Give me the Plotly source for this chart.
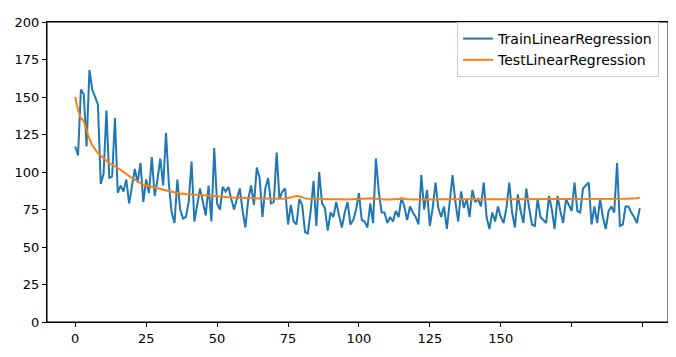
import plotly.graph_objects as go

epochs = list(range(200))

train_loss = [
    117, 111, 155, 152, 117, 168, 155, 150, 145, 92,
    99, 141, 96, 97, 136, 86, 91, 87, 95, 79,
    90, 102, 93, 106, 80, 95, 86, 110, 84, 95,
    109, 91, 126, 92, 73, 66, 95, 75, 69, 70,
    80, 107, 67, 77, 89, 80, 71, 91, 67, 116,
    79, 75, 90, 87, 90, 82, 75, 82, 89, 74,
    63, 82, 91, 78, 103, 96, 70, 89, 96, 79,
    80, 113, 82, 87, 89, 65, 78, 67, 65, 82,
    78, 60, 59, 74, 94, 64, 100, 79, 76, 61,
    73, 70, 80, 71, 63, 73, 80, 65, 68, 75,
    86, 68, 67, 63, 79, 66, 109, 87, 73, 73,
    66, 70, 67, 74, 70, 83, 77, 68, 77, 73,
    70, 65, 98, 75, 88, 64, 76, 93, 76, 70,
    77, 62, 82, 98, 80, 67, 87, 76, 82, 70,
    88, 80, 82, 77, 93, 70, 62, 73, 67, 77,
    70, 66, 76, 93, 73, 63, 85, 74, 66, 89,
    76, 65, 64, 82, 70, 68, 66, 84, 75, 62,
    84, 74, 66, 82, 78, 74, 93, 74, 73, 89,
    91, 93, 65, 77, 66, 82, 70, 62, 74, 77,
    73, 106, 64, 65, 77, 77, 73, 70, 66, 76,
]

test_loss = [
    150, 141, 136, 134, 128, 122, 118, 115, 112.5, 111,
    109, 107.5, 106, 105, 104, 103, 101.5, 100, 98.5, 97,
    96, 95, 93.5, 92.5, 91.5, 91, 90.5, 90, 89.5, 89,
    88.5, 88, 87.5, 87, 86.5, 86, 86, 85.5, 85.5, 85,
    85, 85, 84.8, 84.7, 84.6, 84.5, 84.4, 84.3, 84.2, 84.1,
    84, 83.8, 83.6, 83.4, 83.2, 83, 82.9, 82.8, 82.7, 82.6,
    82.6, 82.5, 82.5, 82.5, 82.4, 82.4, 82.4, 82.3, 82.3, 82.3,
    82.3, 82.2, 82.2, 82.2, 82.3, 82.5, 83, 83.6, 84, 83.8,
    83, 82.4, 82.1, 82, 82, 81.9, 82, 81.9, 81.9, 81.8,
    81.8, 81.8, 81.9, 81.8, 81.8, 81.7, 81.8, 81.8, 81.7, 81.8,
    81.8, 81.9, 82, 82.2, 82.4, 82.5, 82.2, 81.9, 81.8, 81.7,
    81.7, 81.8, 81.8, 81.9, 82.1, 82.3, 82.1, 81.8, 81.7, 81.7,
    81.6, 81.7, 81.7, 81.8, 81.7, 81.7, 81.6, 81.7, 81.8, 81.8,
    81.7, 81.7, 81.6, 81.7, 81.8, 81.9, 82, 81.9, 81.8, 81.7,
    81.7, 81.6, 81.7, 81.7, 81.8, 81.9, 81.8, 81.7, 81.7, 81.8,
    81.8, 81.8, 81.9, 81.9, 81.8, 81.8, 81.7, 81.8, 81.8, 81.9,
    82, 82, 81.9, 81.8, 81.8, 81.9, 81.9, 82, 82, 81.9,
    81.9, 81.8, 81.9, 82, 82, 82.1, 82, 81.9, 81.9, 82,
    82, 82.1, 82.1, 82, 81.9, 81.9, 82, 82, 82.1, 82.1,
    82, 82, 82.1, 82.1, 82.2, 82.2, 82.3, 82.3, 82.5, 83,
]

x_tick_vals = [0, 25, 50, 75, 100, 125, 150, 175, 200]
x_tick_text = ["0", "25", "50", "75", "100", "125", "150", "", ""]
y_tick_vals = [0, 25, 50, 75, 100, 125, 150, 175, 200]

fig = go.Figure()
fig.add_trace(go.Scatter(x=epochs, y=train_loss, mode="lines",
                         name="TrainLinearRegression",
                         line=dict(color="#1f77b4", width=2)))
fig.add_trace(go.Scatter(x=epochs, y=test_loss, mode="lines",
                         name="TestLinearRegression",
                         line=dict(color="#ff7f0e", width=2)))

axis_common = dict(showgrid=False, zeroline=False, showline=True, mirror=True,
                   linecolor="black", linewidth=1, ticks="outside", ticklen=4,
                   tickcolor="black", tickfont=dict(family="DejaVu Sans", size=13, color="black"))

# page body has an 8px margin, so the figure is sized to end at the window edge
fig.update_layout(
    width=668, height=349,
    margin=dict(l=38, r=7, t=7, b=35),
    plot_bgcolor="white", paper_bgcolor="white",
    font=dict(family="DejaVu Sans", size=13, color="black"),
    xaxis=dict(range=[-9.95, 208.95], tickvals=x_tick_vals, ticktext=x_tick_text, **axis_common),
    yaxis=dict(range=[0, 200], tickvals=y_tick_vals, **axis_common),
    legend=dict(x=0.9856, y=1.0, xanchor="right", yanchor="top",
                bgcolor="white", bordercolor="#cccccc", borderwidth=1,
                font=dict(family="DejaVu Sans", size=14), tracegroupgap=0),
    shapes=[dict(type="rect", xref="paper", yref="paper", x0=0, y0=0, x1=1, y1=1,
                 line=dict(color="black", width=1), fillcolor="rgba(0,0,0,0)", layer="above")],
    showlegend=True,
)

fig.write_html("out.html")
